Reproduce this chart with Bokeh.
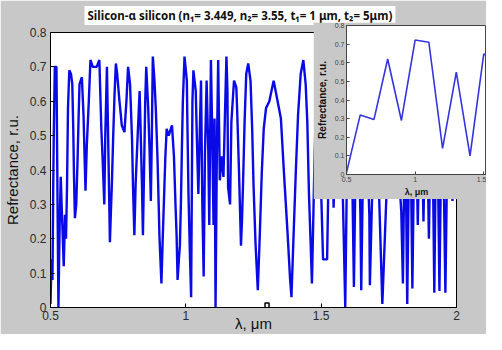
from bokeh.plotting import figure
from bokeh.models import FixedTicker, Range1d
from bokeh.layouts import column
from bokeh.embed import file_html
from bokeh.resources import INLINE

# ---------------- data ----------------
wl = [0.500, 0.5037, 0.5073, 0.5098, 0.5122, 0.5159, 0.5220, 0.5244, 0.5268, 0.5293,
      0.5317, 0.5341, 0.5378, 0.5415, 0.5451, 0.5488, 0.5537, 0.5573, 0.5610, 0.5646,
      0.5695, 0.5756, 0.5805, 0.5841, 0.5866, 0.5902, 0.5951, 0.6000, 0.6037, 0.6073,
      0.6159, 0.6220, 0.6256, 0.6293, 0.6341, 0.6415, 0.6476, 0.6561, 0.6707, 0.6805,
      0.6841, 0.6878, 0.6927, 0.6988, 0.7024, 0.7085, 0.7122, 0.7159, 0.7195, 0.7232,
      0.7268, 0.7317, 0.7366, 0.7415, 0.7463, 0.7537, 0.7634, 0.7732, 0.7805, 0.7866,
      0.7939, 0.8012, 0.8049, 0.8098, 0.8146, 0.8220, 0.8293, 0.8341, 0.8378, 0.8415,
      0.8463, 0.8500, 0.8537, 0.8610, 0.8659, 0.8707, 0.8744, 0.8780, 0.8841, 0.8890,
      0.8951, 0.9000, 0.9024, 0.9061, 0.9098, 0.9146, 0.9244, 0.9293, 0.9366, 0.9488,
      0.9561, 0.9622, 0.9659, 0.9695, 0.9744, 0.9780, 0.9817, 0.9854, 0.9890, 0.9951,
      1.0037, 1.0061, 1.0098, 1.0146, 1.0195, 1.0244, 1.0280, 1.0366, 1.0415, 1.0463,
      1.0512, 1.0561, 1.0610, 1.0659, 1.0707, 1.0768, 1.0829, 1.0866, 1.0927, 1.0976,
      1.1024, 1.1061, 1.1098, 1.1146, 1.1195, 1.1256, 1.1317, 1.1390, 1.1439, 1.1500,
      1.1537, 1.1561, 1.1634, 1.1683, 1.1780, 1.1866, 1.1902, 1.1963, 1.2000, 1.2037,
      1.2073, 1.2110, 1.2171, 1.2232, 1.2305, 1.2390, 1.2451, 1.2500, 1.2573, 1.2659,
      1.2732, 1.2805, 1.2878, 1.2963, 1.3085, 1.3244, 1.3293, 1.3512, 1.3634, 1.3756,
      1.3854, 1.3902, 1.3976, 1.4061, 1.4146, 1.4244, 1.4341, 1.4427, 1.4488, 1.4549,
      1.4610, 1.4659, 1.476, 1.486, 1.496, 1.507, 1.522, 1.532, 1.539, 1.546,
      1.556, 1.570, 1.583, 1.589, 1.600, 1.612, 1.617, 1.621, 1.632, 1.645,
      1.648, 1.660, 1.678, 1.680, 1.700, 1.726, 1.760, 1.796, 1.802, 1.810,
      1.818, 1.828, 1.837, 1.847, 1.857, 1.867, 1.878, 1.888, 1.898, 1.908,
      1.915, 1.918, 1.927, 1.937, 1.947, 1.959, 1.970, 1.985, 1.995]

refl = [0.01, 0.14, 0.08, 0.33, 0.51, 0.70, 0.70, 0.47, 0.23, 0.00,
        0.13, 0.25, 0.38, 0.29, 0.21, 0.12, 0.27, 0.20, 0.35, 0.58,
        0.69, 0.68, 0.65, 0.52, 0.39, 0.26, 0.30, 0.43, 0.55, 0.65,
        0.67, 0.56, 0.45, 0.34, 0.47, 0.60, 0.72, 0.70, 0.70, 0.72,
        0.62, 0.52, 0.43, 0.30, 0.50, 0.70, 0.53, 0.36, 0.19, 0.28,
        0.36, 0.50, 0.62, 0.71, 0.68, 0.61, 0.53, 0.51, 0.60, 0.70,
        0.65, 0.49, 0.35, 0.21, 0.36, 0.50, 0.63, 0.48, 0.36, 0.21,
        0.43, 0.60, 0.70, 0.58, 0.46, 0.31, 0.50, 0.73, 0.66, 0.58,
        0.44, 0.29, 0.21, 0.14, 0.07, 0.20, 0.44, 0.52, 0.50, 0.53,
        0.44, 0.29, 0.21, 0.08, 0.14, 0.18, 0.30, 0.46, 0.60, 0.73,
        0.66, 0.52, 0.33, 0.17, 0.03, 0.60, 0.69, 0.63, 0.47, 0.33,
        0.50, 0.66, 0.30, 0.09, 0.45, 0.66, 0.46, 0.24, 0.72, 0.50,
        0.24, 0.55, 0.00, 0.45, 0.72, 0.37, 0.44, 0.38, 0.54, 0.73,
        0.63, 0.35, 0.30, 0.54, 0.66, 0.64, 0.56, 0.40, 0.29, 0.18,
        0.25, 0.35, 0.54, 0.68, 0.71, 0.66, 0.52, 0.36, 0.19, 0.05,
        0.21, 0.39, 0.52, 0.58, 0.60, 0.66, 0.64, 0.55, 0.38, 0.22,
        0.08, 0.03, 0.20, 0.39, 0.56, 0.68, 0.72, 0.65, 0.54, 0.33,
        0.19, 0.07, 0.45, 0.70, 0.45, 0.14, 0.14, 0.62, 0.55, 0.29,
        0.62, 0.68, 0.22, 0.00, 0.70, 0.55, 0.27, 0.06, 0.70, 0.27,
        0.05, 0.70, 0.27, 0.065, 0.70, 0.01, 0.72, 0.28, 0.07, 0.60,
        0.01, 0.65, 0.055, 0.68, 0.24, 0.70, 0.25, 0.70, 0.20, 0.70,
        0.26, 0.043, 0.70, 0.048, 0.70, 0.043, 0.70, 0.31, 0.60]

inset_wl = [0.5, 0.6, 0.7, 0.8, 0.9, 1.0, 1.1, 1.2, 1.3, 1.4, 1.5, 1.6]
inset_refl = [0.01, 0.32, 0.295, 0.62, 0.29, 0.722, 0.71, 0.14, 0.55, 0.10, 0.648, 0.60]

cursor_wl = [1.30]
cursor_refl = [0.0]

x_ticks = [0.5, 1, 1.5, 2]
x_tick_labels = ["0.5", "1", "1.5", "2"]
y_ticks = [0, 0.1, 0.2, 0.3, 0.4, 0.5, 0.6, 0.7, 0.8]
y_tick_labels = ["0", "0.1", "0.2", "0.3", "0.4", "0.5", "0.6", "0.7", "0.8"]

title_text = "Silicon-\u03b1 silicon (n\u2081= 3.449, n\u2082= 3.55, t\u2081= 1 \u03bcm, t\u2082= 5\u03bcm)"
x_label = "\u03bb, \u03bcm"
y_label = "Refrectance, r.u."

GRAY = "#c8c8c8"
FONT = "Liberation Sans"

# ---------------- main plot ----------------
p = figure(width=486, height=334, x_range=Range1d(0.5, 2), y_range=Range1d(0, 0.8),
           output_backend="svg", toolbar_location=None, frame_align=False,
           min_border_left=46, min_border_right=30, min_border_top=29, min_border_bottom=26,
           background_fill_color="white", border_fill_color=GRAY,
           outline_line_color="black", outline_line_width=1)
p.grid.visible = False

p.line(wl, refl, line_color="#0a0ae6", line_width=2.4)
p.rect(cursor_wl, cursor_refl, width=4, height=9, width_units="screen", height_units="screen",
       fill_color="white", line_color="black", line_width=1.5)

def style_axis(ax, ticks, labels, size, color, label_size, bold=False):
    ax.ticker = FixedTicker(ticks=ticks)
    ax.major_label_overrides = {t: l for t, l in zip(ticks, labels)}
    ax.major_label_text_font = FONT
    ax.major_label_text_font_size = size
    ax.major_label_text_color = color
    ax.axis_label_text_font = FONT
    ax.axis_label_text_font_size = label_size
    ax.axis_label_text_font_style = "bold" if bold else "normal"
    ax.axis_label_text_color = "#111111"
    ax.major_tick_in = 4
    ax.major_tick_out = 0
    ax.minor_tick_line_color = None
    ax.axis_line_color = "black"
    ax.major_tick_line_color = "black"

style_axis(p.xaxis[0], x_ticks, x_tick_labels, "12px", "#2a2a2a", "15px")
style_axis(p.yaxis[0], y_ticks, y_tick_labels, "12px", "#2a2a2a", "15px")
p.xaxis[0].axis_label = x_label
p.yaxis[0].axis_label = y_label
p.xaxis[0].major_label_standoff = 3
p.xaxis[0].axis_label_standoff = -8
p.yaxis[0].major_label_standoff = 4
p.yaxis[0].axis_label_standoff = 6

p.title.text = title_text
p.title.align = "left"
p.title.offset = 34
p.title.vertical_align = "top"
p.title.standoff = 11
p.title.text_font = "Noto Sans"
p.title.text_font_size = "11.5px"
p.title.text_font_style = "bold"
p.title.text_color = "#111111"
p.title.background_fill_color = "white"
try:
    p.title.padding = (3, 2)
except Exception:
    pass

# ---------------- inset ----------------
ins = figure(width=173, height=177, x_range=Range1d(0.5, 1.52), y_range=Range1d(0, 0.8),
             output_backend="svg", toolbar_location=None, frame_align=False,
             min_border_left=30, min_border_right=0, min_border_top=3, min_border_bottom=23,
             background_fill_color="white", border_fill_color=GRAY,
             outline_line_color="#444444", outline_line_width=1)
ins.title_location = None
ins.grid.visible = False
ins.line(inset_wl, inset_refl, line_color="#3535e0", line_width=1.6)

style_axis(ins.xaxis[0], x_ticks, x_tick_labels, "7px", "#444444", "9px", bold=True)
style_axis(ins.yaxis[0], y_ticks, y_tick_labels, "7px", "#444444", "10px", bold=True)
for ax in (ins.xaxis[0], ins.yaxis[0]):
    ax.major_tick_in = 3
    ax.axis_line_color = "#444444"
    ax.major_tick_line_color = "#444444"
ins.xaxis[0].axis_label = x_label
ins.yaxis[0].axis_label = y_label
ins.xaxis[0].major_label_standoff = 2
ins.xaxis[0].axis_label_standoff = 2
ins.yaxis[0].major_label_standoff = 2
ins.yaxis[0].axis_label_standoff = 4

ins.margin = (-312, 0, 0, 313)

layout = column(p, ins)
open("out.html", "w").write(file_html(layout, INLINE))
